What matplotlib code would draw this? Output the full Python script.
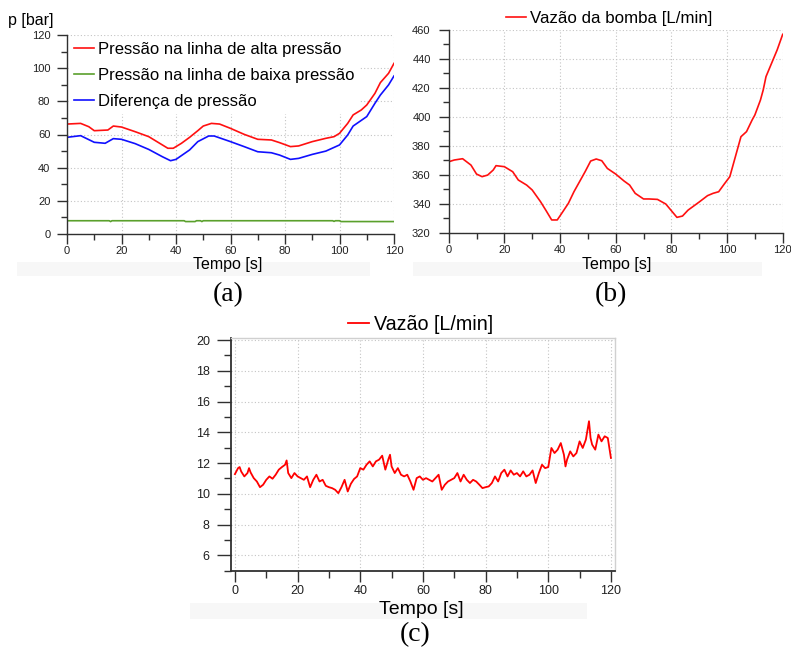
import numpy as np
import matplotlib
matplotlib.use("Agg")
import matplotlib.pyplot as plt
from matplotlib.patches import Rectangle
from matplotlib.ticker import MultipleLocator

plt.rcParams['font.family'] = ['Liberation Sans', 'DejaVu Sans']

# ---------------- (a) pressures ----------------
t_alta = [0, 5, 8, 10, 15, 17, 20, 25, 30, 35, 37, 39, 42, 45, 48, 50, 53, 56, 60,
          65, 70, 75, 78, 82, 85, 90, 95, 98, 100, 103, 105, 108, 110, 113, 115, 118, 120]
p_alta = [66.3, 66.7, 64.7, 62.3, 62.7, 65.1, 64.5, 61.7, 58.7, 53.7, 51.7, 51.7, 54.7,
          58.3, 62.3, 65.1, 66.7, 66.3, 63.7, 60.1, 57.1, 56.7, 55.1, 52.7, 53.1, 55.7,
          57.7, 58.7, 60.7, 66.7, 71.8, 74.8, 77.8, 84.8, 91.3, 96.9, 102.9]

t_baixa = [0, 15.5, 16, 16.5, 43, 43.5, 47, 47.5, 48, 49, 49.5, 50, 97.5, 98, 98.5, 100, 100.5, 120]
p_baixa = [8.0, 8.0, 7.5, 8.0, 8.0, 7.5, 7.5, 8.0, 8.0, 8.0, 7.5, 8.0, 8.0, 7.6, 8.0, 8.0, 7.5, 7.5]

t_dif = [0, 5, 10, 14, 17, 20, 25, 30, 35, 38, 40, 45, 48, 52, 54, 60, 65, 70, 75, 78,
         82, 85, 90, 95, 100, 103, 105, 110, 113, 115, 118, 120]
p_dif = [58.3, 59.3, 55.3, 54.7, 57.5, 57.1, 54.5, 51.0, 46.6, 44.2, 45.0, 50.7, 55.7,
         59.1, 59.1, 55.7, 52.7, 49.6, 49.0, 47.6, 45.0, 45.6, 48.0, 50.0, 53.7, 59.7,
         65.1, 70.8, 78.8, 83.8, 89.9, 95.3]

# ---------------- (b) pump flow ----------------
t_bomba = [0, 2, 5, 8, 10, 12, 14, 16, 17, 20, 23, 25, 28, 30, 33, 35, 37, 39, 41, 43,
           45, 47, 49, 51, 53, 55, 57, 60, 63, 65, 67, 70, 72, 75, 78, 80, 82, 84, 86,
           88, 90, 93, 95, 97, 99, 101, 102, 104, 105, 107, 109, 110, 112, 113, 114,
           116, 118, 120]
q_bomba = [369.0, 370.2, 371.1, 366.7, 360.5, 358.7, 359.8, 363.3, 366.3, 365.6, 362.1,
           356.4, 352.9, 349.5, 341.4, 335.2, 328.8, 328.8, 334.5, 340.3, 348.3, 355.2,
           362.1, 369.5, 370.9, 369.7, 364.4, 360.5, 355.7, 352.9, 347.2, 343.3, 343.3,
           343.0, 339.8, 335.2, 330.6, 331.5, 335.6, 338.4, 341.2, 345.6, 347.2, 348.3,
           353.6, 358.7, 365.6, 379.4, 386.3, 389.8, 397.8, 401.3, 411.6, 418.6, 427.8,
           437.0, 446.2, 457.0]

# ---------------- (c) flow ----------------
t_vazao = [0, 1, 1.5, 2, 3, 4, 4.5, 5, 6, 7, 8, 9, 10, 11, 12, 13, 14, 15, 16, 16.5,
           17, 18, 19, 20, 21, 22, 23, 24, 25, 26, 27, 28, 29, 30, 31, 32, 33, 34, 35,
           36, 37, 38, 39, 40, 41, 42, 43, 44, 45, 46, 47, 48, 49, 49.5, 50, 51, 52,
           53, 54, 55, 56, 57, 58, 59, 60, 61, 62, 63, 64, 65, 66, 67, 68, 69, 70, 71,
           72, 73, 74, 75, 76, 77, 78, 79, 80, 81, 82, 83, 84, 85, 86, 87, 88, 89, 90,
           91, 92, 93, 94, 95, 96, 97, 98, 99, 100, 101, 102, 103, 104, 105, 105.5,
           106, 107, 108, 109, 110, 111, 112, 113, 113.5, 114, 115, 116, 117, 118,
           119, 120]
q_vazao = [11.28, 11.67, 11.74, 11.45, 11.13, 11.35, 11.67, 11.39, 11.02, 10.80, 10.43,
           10.59, 10.91, 11.13, 10.98, 11.24, 11.57, 11.74, 11.89, 12.17, 11.35, 11.02,
           11.35, 11.13, 11.02, 10.91, 11.13, 10.43, 10.91, 11.24, 10.80, 10.91, 10.52,
           10.43, 10.37, 10.26, 10.04, 10.43, 10.91, 10.15, 10.65, 10.96, 11.13, 11.67,
           11.57, 11.89, 12.11, 11.78, 12.11, 12.22, 12.48, 11.57, 12.26, 12.54, 11.78,
           11.35, 11.67, 11.24, 11.13, 11.24, 10.80, 10.26, 11.02, 11.13, 10.91, 11.02,
           10.91, 10.80, 11.02, 11.24, 10.26, 10.59, 10.80, 10.91, 11.02, 11.35, 10.80,
           11.24, 10.91, 10.70, 10.91, 10.80, 10.59, 10.37, 10.43, 10.48, 10.70, 11.13,
           10.80, 11.35, 11.57, 11.13, 11.52, 11.24, 11.35, 11.13, 11.46, 11.13, 11.24,
           11.52, 10.70, 11.35, 11.89, 11.67, 11.74, 12.98, 12.65, 12.87, 13.30, 12.54,
           11.78, 12.22, 12.76, 12.43, 12.65, 13.41, 12.98, 13.52, 14.72, 13.63, 13.20,
           12.87, 13.85, 13.41, 13.74, 13.63, 12.33]

W, H = 791, 647
fig = plt.figure(figsize=(W / 100, H / 100), dpi=100)


def box(l, t, r, b):
    return [l / W, 1 - b / H, (r - l) / W, (b - t) / H]


# faint bands behind the axis titles
for (l, t, r, b) in [(17, 262, 370, 276), (413, 262, 762, 276), (190, 603, 587, 619)]:
    fig.patches.append(Rectangle((l / W, 1 - b / H), (r - l) / W, (b - t) / H,
                                 transform=fig.transFigure, facecolor='#f7f7f7',
                                 edgecolor='none', zorder=0))

grid_kw = dict(color='#c4c4c4', linestyle=(0, (1, 2)), linewidth=0.8)


def style(ax, xmin, xmax, ymin, ymax, ymaj, ymin_step, frame=False, tsize=8,
          major_len=7, minor_len=4, ypad=5, xpad=2, xmajor_len=None):
    ax.set_xlim(xmin, xmax)
    ax.set_ylim(ymin, ymax)
    ax.xaxis.set_major_locator(MultipleLocator(20))
    ax.xaxis.set_minor_locator(MultipleLocator(10))
    ax.yaxis.set_major_locator(MultipleLocator(ymaj))
    ax.yaxis.set_minor_locator(MultipleLocator(ymin_step))
    ax.grid(True, which='major', **grid_kw)
    ax.set_axisbelow(True)
    for s in ('left', 'bottom'):
        ax.spines[s].set_color('#303030')
        ax.spines[s].set_linewidth(1.0)
    for s in ('top', 'right'):
        if frame:
            ax.spines[s].set_color('#d0d0d0')
            ax.spines[s].set_linewidth(1.0)
        else:
            ax.spines[s].set_visible(False)
    ax.tick_params(which='both', direction='out', color='#303030', width=1.0,
                   top=False, right=False)
    ax.tick_params(which='major', length=major_len)
    ax.tick_params(which='minor', length=minor_len)
    if xmajor_len is not None:
        ax.tick_params(axis='x', which='major', length=xmajor_len)
    ax.tick_params(axis='y', which='major', pad=ypad)
    ax.tick_params(axis='x', which='major', pad=xpad)
    for lab in ax.get_xticklabels() + ax.get_yticklabels():
        lab.set_fontsize(tsize)
        lab.set_color('#202020')


# (a)
axa = fig.add_axes(box(67, 35, 394, 234))
axa.plot(t_alta, p_alta, color='#ff1010', lw=1.2, label='Pressão na linha de alta pressão')
axa.plot(t_baixa, p_baixa, color='#5aa02c', lw=1.2, label='Pressão na linha de baixa pressão')
axa.plot(t_dif, p_dif, color='#1010ff', lw=1.2, label='Diferença de pressão')
style(axa, 0, 120, 0, 120, 20, 10)
leg = axa.legend(loc='upper left', bbox_to_anchor=(0.006, 0.99), frameon=True,
                 facecolor='white', edgecolor='none', framealpha=1, fontsize=12,
                 handlelength=1.2, handletextpad=0.25, labelspacing=0.66,
                 borderpad=0.3, borderaxespad=0, fancybox=False)
leg.set_zorder(1.5)
fig.text(31 / W, 1 - 20 / H, 'p [bar]', ha='center', va='center', fontsize=11.5)
fig.text(228 / W, 1 - 264 / H, 'Tempo [s]', ha='center', va='center', fontsize=11.5)

# (b)
axb = fig.add_axes(box(448.7, 30, 782.7, 232.7))
axb.plot(t_bomba, q_bomba, color='#ff1010', lw=1.2, label='Vazão da bomba [L/min]')
style(axb, 0, 120, 320, 460, 20, 10, ypad=6)
axb.legend(loc='center', bbox_to_anchor=(609 / W, 1 - 18 / H),
           bbox_transform=fig.transFigure, frameon=False, fontsize=12.2,
           handlelength=1.2, handletextpad=0.2, borderpad=0)
fig.text(617 / W, 1 - 264 / H, 'Tempo [s]', ha='center', va='center', fontsize=11.5)

# (c)
axc = fig.add_axes(box(230.7, 337.7, 615, 570.7))
axc.plot(t_vazao, q_vazao, color='#ff0000', lw=1.3, label='Vazão [L/min]')
style(axc, -1.35, 121.3, 5, 20.15, 2, 1, frame=True, tsize=9,
      major_len=10, minor_len=5, ypad=5, xpad=2, xmajor_len=8)
axc.spines['left'].set_linewidth(1.3)
axc.spines['bottom'].set_linewidth(1.3)
axc.legend(loc='center', bbox_to_anchor=(420.5 / W, 1 - 324 / H),
           bbox_transform=fig.transFigure, frameon=False, fontsize=14.2,
           handlelength=1.1, handletextpad=0.25, borderpad=0)
fig.text(421.5 / W, 1 - 609 / H, 'Tempo [s]', ha='center', va='center', fontsize=14)

# panel labels
serif = ['Liberation Serif', 'DejaVu Serif']
for txt, x, y in [('(a)', 228, 295), ('(b)', 611, 295), ('(c)', 415, 635)]:
    fig.text(x / W, 1 - y / H, txt, ha='center', va='center', fontsize=20, family=serif)

fig.savefig('out.png', dpi=100)
